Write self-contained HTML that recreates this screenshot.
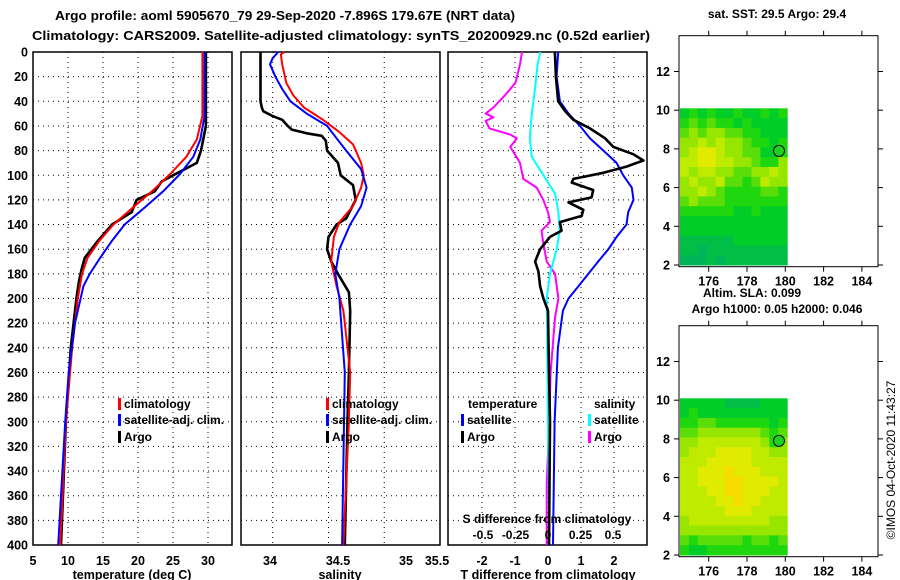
<!DOCTYPE html>
<html><head><meta charset="utf-8">
<style>
html,body{margin:0;padding:0;background:#fff;}
svg{display:block;font-family:"Liberation Sans",Arial,sans-serif;font-weight:bold;}
</style></head>
<body>
<svg id="chart" width="900" height="580" viewBox="0 0 900 580" xmlns="http://www.w3.org/2000/svg">
<text x="285" y="20" font-size="13" text-anchor="middle" textLength="460" lengthAdjust="spacingAndGlyphs">Argo profile: aoml 5905670_79 29-Sep-2020 -7.896S 179.67E (NRT data)</text>
<text x="341" y="40" font-size="13" text-anchor="middle" textLength="618" lengthAdjust="spacingAndGlyphs">Climatology: CARS2009. Satellite-adjusted climatology: synTS_20200929.nc (0.52d earlier)</text>
<g id="g1"></g><g id="g2"></g><g id="g3"></g><g id="m1"></g><g id="m2"></g>
<text transform="translate(895,460) rotate(-90)" font-size="12" font-weight="normal" text-anchor="middle">©IMOS 04-Oct-2020 11:43:27</text>
</svg>
<script>
// ---------- data ----------
const tDepth   = [0,52,71,85,99,113,126,140,153,167,180,200,240,300,400];
const tClim    = [29.2,29.2,28.4,26.9,24.6,22.0,19.3,16.5,14.5,12.8,12.0,11.4,10.6,9.7,8.9];
const tSatDepth= [0,52,71,85,99,113,126,140,153,167,180,190,220,260,300,400];
const tSat     = [29.5,29.5,28.9,27.9,26.0,23.6,21.0,18.1,16.3,14.6,13.1,12.2,11.0,10.1,9.6,8.6];
const tArgoDepth=[0,60,80,90,95,100,105,113,120,130,140,153,167,175,185,200,240,300,400];
const tArgo    = [29.7,29.7,29.0,28.4,26.7,25.0,23.4,22.4,19.8,19.1,16.3,14.3,12.4,12.0,11.6,11.2,10.4,9.7,9.0];

const sArgoDepth=[0,40,45,48,52,55,60,63,66,68,72,80,90,100,108,120,135,140,150,160,170,180,195,210,260,300,400];
const sArgo    = [33.93,33.93,33.94,33.95,34.02,34.09,34.13,34.16,34.27,34.38,34.41,34.42,34.50,34.52,34.61,34.63,34.56,34.49,34.43,34.42,34.45,34.50,34.58,34.59,34.58,34.57,34.55];
const sClimDepth=[0,2,10,25,35,45,55,65,75,90,100,110,125,138,150,170,190,210,260,300,400];
const sClim    = [34.105,34.08,34.09,34.12,34.17,34.25,34.39,34.51,34.61,34.67,34.69,34.67,34.61,34.51,34.47,34.45,34.49,34.54,34.59,34.58,34.54];
const sSatDepth= [0,5,10,20,30,40,50,60,70,80,95,110,125,140,160,180,200,260,400];
const sSat     = [34.06,34.02,34.0,34.04,34.09,34.15,34.27,34.42,34.49,34.56,34.67,34.71,34.67,34.59,34.51,34.48,34.51,34.55,34.53];

const dSsatDepth=[0,10,30,50,70,85,100,115,130,145,160,180,200,300,400];
const dSsat    = [-0.06,-0.08,-0.10,-0.125,-0.14,-0.125,-0.035,0.055,0.08,0.09,0.067,0.015,-0.01,0.0,0.01];
const dSargoDepth=[0,10,25,35,45,50,53,56,62,67,70,77,90,103,110,120,130,138,145,155,170,180,200,215,260,300,350,400];
const dSargo   = [-0.20,-0.215,-0.25,-0.33,-0.42,-0.48,-0.42,-0.48,-0.45,-0.29,-0.24,-0.29,-0.215,-0.19,-0.087,-0.036,0.0,0.015,-0.05,-0.036,-0.01,0.055,0.08,0.055,0.02,0.01,-0.01,-0.01];
const dTsatDepth=[0,20,40,50,60,70,80,90,100,110,120,130,140,150,160,170,180,190,200,210,240,300,400];
const dTsat    = [0.31,0.26,0.36,0.62,0.97,1.27,1.68,2.08,2.28,2.54,2.59,2.43,2.38,2.08,1.83,1.52,1.22,0.92,0.62,0.45,0.3,0.2,0.15];
const dTargoDepth=[0,20,40,48,55,62,70,77,83,88,93,98,103,106,112,118,122,128,133,138,145,150,160,170,178,190,200,210,260,300,400];
const dTargo   = [0.21,0.24,0.31,0.52,0.77,1.27,1.73,1.98,2.59,2.89,2.38,1.68,0.77,0.72,1.37,1.32,0.62,1.07,1.02,0.36,0.41,0.06,-0.24,-0.39,-0.29,-0.24,-0.14,0.0,0.03,0.06,0.03];

const depthTicks=[0,20,40,60,80,100,120,140,160,180,200,220,240,260,280,300,320,340,360,380,400];
const tTicks=[5,10,15,20,25,30];
const sTicks=["34","34.5","35","35.5"];
const dTTicks=[-2,-1,0,1,2];
const dSTicks=["-0.5","-0.25","0","0.25","0.5"];
const lonTicks=[176,178,180,182,184];
const latTicks=[2,4,6,8,10,12];

const map1Vals=[
[3,4,3,4,3,3,4,3,3,4,3,4],[4,5,4,5,4,4,3,4,3,3,3,3],[5,6,5,6,6,5,5,4,4,3,3,3],[6,6,7,6,7,6,6,5,4,4,3,4],
[6,7,8,8,7,6,6,5,5,3,3,4],[7,7,8,8,7,7,6,6,5,4,4,6],[7,6,7,7,6,6,5,5,6,6,7,6],[6,7,6,6,7,5,5,4,5,7,6,6],
[6,6,7,6,5,4,4,4,4,5,5,4],[5,6,5,5,5,4,4,4,4,4,4,4],[4,4,4,4,4,4,3,3,4,3,3,3],[3,3,3,3,3,3,3,3,3,3,3,3],
[3,3,3,3,3,3,3,3,3,3,3,3],[2,2,2,2,2,2,3,3,3,3,3,3],[2,2,1,2,2,2,2,2,2,2,2,2],[1,1,1,2,1,2,2,2,2,2,2,2]];
const map2Vals=[
[3,3,3,3,3,2,2,2,2,3,3,3],[3,4,3,3,3,3,3,3,3,3,3,3],[4,4,5,5,4,4,4,4,4,4,3,4],[5,5,6,6,6,6,6,6,6,5,4,5],
[6,6,7,7,7,7,7,7,7,6,4,6],[6,7,7,7,8,8,8,8,7,7,6,6],[7,7,7,8,8,8,8,8,7,7,7,7],[7,7,8,8,8,9,8,8,8,7,7,7],
[7,7,8,8,8,9,9,8,8,8,8,7],[7,7,7,8,8,9,9,8,8,8,7,7],[7,7,7,7,8,8,9,8,8,7,7,7],[7,7,7,7,7,8,8,8,7,7,7,7],
[6,7,7,7,7,7,7,7,7,7,6,6],[6,6,6,6,6,6,6,6,6,6,6,6],[5,4,5,5,5,5,5,4,5,5,4,5],[4,3,3,4,4,4,4,4,4,4,4,4]];
const floatLon=179.67, floatLat=7.9;

// ---------- helpers ----------
const NS="http://www.w3.org/2000/svg";
function mk(parent,tag,attrs,text){const e=document.createElementNS(NS,tag);for(const k in attrs)e.setAttribute(k,attrs[k]);if(text!==undefined)e.textContent=text;parent.appendChild(e);return e;}
const yD=d=>52+d*1.2325;
const xT=v=>33+(v-5)*7;
const xS=v=>270+(v-34)*136;
const xDT=v=>548+v*33;
const xDS=v=>548+v*130;

function panel(g,x0,x1,gridXs,name){
  const fr=mk(g,'rect',{x:x0,y:52,width:x1-x0,height:493,fill:'none',stroke:'#000','stroke-width':1.5});
  
  depthTicks.slice(1,-1).forEach(d=>{const l=mk(g,'line',{x1:x0,x2:x1,y1:yD(d),y2:yD(d),stroke:'#000','stroke-dasharray':'1,4'});
    });
  gridXs.forEach(x=>{const l=mk(g,'line',{x1:x,x2:x,y1:52,y2:545,stroke:'#000','stroke-dasharray':'1,4'});
    });
}
function curve(g,depths,vals,xf,color,w,name){
  const pts=vals.map((v,i)=>xf(v).toFixed(1)+','+yD(depths[i]).toFixed(1)).join(' ');
  const p=mk(g,'polyline',{points:pts,fill:'none',stroke:color,'stroke-width':w,'stroke-linejoin':'round'});
  
}
function legendItem(g,x,y,color,label,name){
  const r=mk(g,'rect',{x:x,y:y-10,width:3,height:12,fill:color});
  
  const t=mk(g,'text',{x:x+6,y:y,'font-size':12},label);
  
}
function txt(g,x,y,s,anchor,size,name){const t=mk(g,'text',{x:x,y:y,'font-size':size||12,'text-anchor':anchor||'middle'},s);
  return t;}

// ---------- panel 1: temperature ----------
const g1=document.getElementById('g1');
panel(g1,33,232,[10,15,20,25,30].map(xT),'temperature-panel');
depthTicks.forEach(d=>txt(g1,28,yD(d)+4.5,String(d),'end',12.5,'depth-tick-label'));
tTicks.forEach(v=>txt(g1,xT(v),565,String(v),'middle',12.5,'temperature-tick-label'));
txt(g1,132,579,'temperature (deg C)','middle',12.5,'temperature-axis-title');
curve(g1,tArgoDepth,tArgo,xT,'#000',2.6,'temperature-argo-line');
curve(g1,tDepth,tClim,xT,'#f00',2,'temperature-climatology-line');
curve(g1,tSatDepth,tSat,xT,'#00f',2,'temperature-satellite-line');
legendItem(g1,118,408,'#f00','climatology','legend-climatology');
legendItem(g1,118,424,'#00f','satellite-adj. clim.','legend-satellite');
legendItem(g1,118,441,'#000','Argo','legend-argo');

// ---------- panel 2: salinity ----------
const g2=document.getElementById('g2');
panel(g2,241,440,[34.02,34.43,34.84].map(xS),'salinity-panel');
sTicks.forEach(s=>{let x=xS(parseFloat(s));if(x>437)x=437;txt(g2,x,565,s,'middle',12.5,'salinity-tick-label');});
txt(g2,340,579,'salinity','middle',12.5,'salinity-axis-title');
curve(g2,sArgoDepth,sArgo,xS,'#000',2.6,'salinity-argo-line');
curve(g2,sClimDepth,sClim,xS,'#f00',2,'salinity-climatology-line');
curve(g2,sSatDepth,sSat,xS,'#00f',2,'salinity-satellite-line');
legendItem(g2,326,408,'#f00','climatology','legend2-climatology');
legendItem(g2,326,424,'#00f','satellite-adj. clim.','legend2-satellite');
legendItem(g2,326,441,'#000','Argo','legend2-argo');

// ---------- panel 3: differences ----------
const g3=document.getElementById('g3');
panel(g3,448,647,dTTicks.map(xDT),'difference-panel');
dTTicks.forEach(v=>txt(g3,xDT(v),565,String(v),'middle',12.5,'t-diff-tick-label'));
txt(g3,548,579,'T difference from climatology','middle',12.5,'t-diff-axis-title');
curve(g3,dSargoDepth,dSargo,xDS,'#f0f',2,'s-diff-argo-line');
curve(g3,dSsatDepth,dSsat,xDS,'#0ff',2,'s-diff-satellite-line');
curve(g3,dTsatDepth,dTsat,xDT,'#00f',2,'t-diff-satellite-line');
curve(g3,dTargoDepth,dTargo,xDT,'#000',2.6,'t-diff-argo-line');
txt(g3,468,408,'temperature','start',12,'legend-temperature-header');
txt(g3,594,408,'salinity','start',12,'legend-salinity-header');
legendItem(g3,461,424,'#00f','satellite','legend-t-satellite');
legendItem(g3,461,441,'#000','Argo','legend-t-argo');
legendItem(g3,588,424,'#0ff','satellite','legend-s-satellite');
legendItem(g3,588,441,'#f0f','Argo','legend-s-argo');
txt(g3,547,523,'S difference from climatology','middle',12,'s-diff-axis-title');
dSTicks.forEach(s=>txt(g3,xDS(parseFloat(s)),539,s,'middle',12,'s-diff-tick-label'));

// ---------- maps ----------
const stops=[[0,[0,170,110]],[2,[0,190,70]],[3,[0,205,40]],[4,[30,215,15]],[5,[90,222,10]],[6,[150,230,0]],[7,[190,235,0]],[8,[225,235,0]],[9,[248,220,0]]];
function col(v){for(let i=0;i<stops.length-1;i++){const[a,ca]=stops[i],[b,cb]=stops[i+1];if(v<=b){const t=(v-a)/(b-a);return 'rgb('+ca.map((c,k)=>Math.round(c+(cb[k]-c)*t)).join(',')+')';}}return 'rgb(248,220,0)';}
function map(g,top,bottom,vals,name){
  const xL=lon=>708.7+(lon-176)*19.15;
  const yL=lat=>(bottom-1.7)-(lat-2)*19.35;
  const lon0=174.5,lon1=180.1,lat0=2,lat1=10.1;
  const rows=vals.length,cols=vals[0].length;
  const cw=(lon1-lon0)/cols,ch=(lat1-lat0)/rows;
  vals.forEach((row,r)=>row.forEach((v,c)=>{
    const la=lat1-r*ch,lo=lon0+c*cw;
    const x=Math.max(679,xL(lo)),y=yL(la);
    const cell=mk(g,'rect',{x:x.toFixed(1),y:y.toFixed(1),width:(xL(lo+cw)-x+0.5).toFixed(1),height:(yL(la-ch)-y+0.5).toFixed(1),fill:col(v)});
    
  }));
  const fr=mk(g,'rect',{x:679,y:top,width:199,height:bottom-top,fill:'none',stroke:'#000','stroke-width':1});
  
  lonTicks.forEach(l=>{mk(g,'line',{x1:xL(l),x2:xL(l),y1:top,y2:top-5,stroke:'#000'});mk(g,'line',{x1:xL(l),x2:xL(l),y1:bottom,y2:bottom+5,stroke:'#000'});
    txt(g,xL(l),bottom+19,String(l),'middle',12.5,name+'-lon-label');});
  latTicks.forEach(l=>{mk(g,'line',{x1:679,x2:674,y1:yL(l),y2:yL(l),stroke:'#000'});mk(g,'line',{x1:878,x2:883,y1:yL(l),y2:yL(l),stroke:'#000'});
    txt(g,670,yL(l)+4.5,String(l),'end',12.5,name+'-lat-label');});
  const c=mk(g,'circle',{cx:xL(floatLon),cy:yL(floatLat),r:5.5,fill:'#20d020',stroke:'#000','stroke-width':1});
  
}
const m1=document.getElementById('m1');
map(m1,35.7,266.7,map1Vals,'sst-map');
txt(m1,777,18,'sat. SST: 29.5 Argo: 29.4','middle',12,'sst-map-title');
txt(m1,752,297,'Altim. SLA: 0.099','middle',12,'sla-label');
const m2=document.getElementById('m2');
map(m2,325.7,556.7,map2Vals,'ssh-map');
txt(m2,777,313,'Argo h1000: 0.05 h2000: 0.046','middle',12,'ssh-map-title');
</script>
</body></html>
